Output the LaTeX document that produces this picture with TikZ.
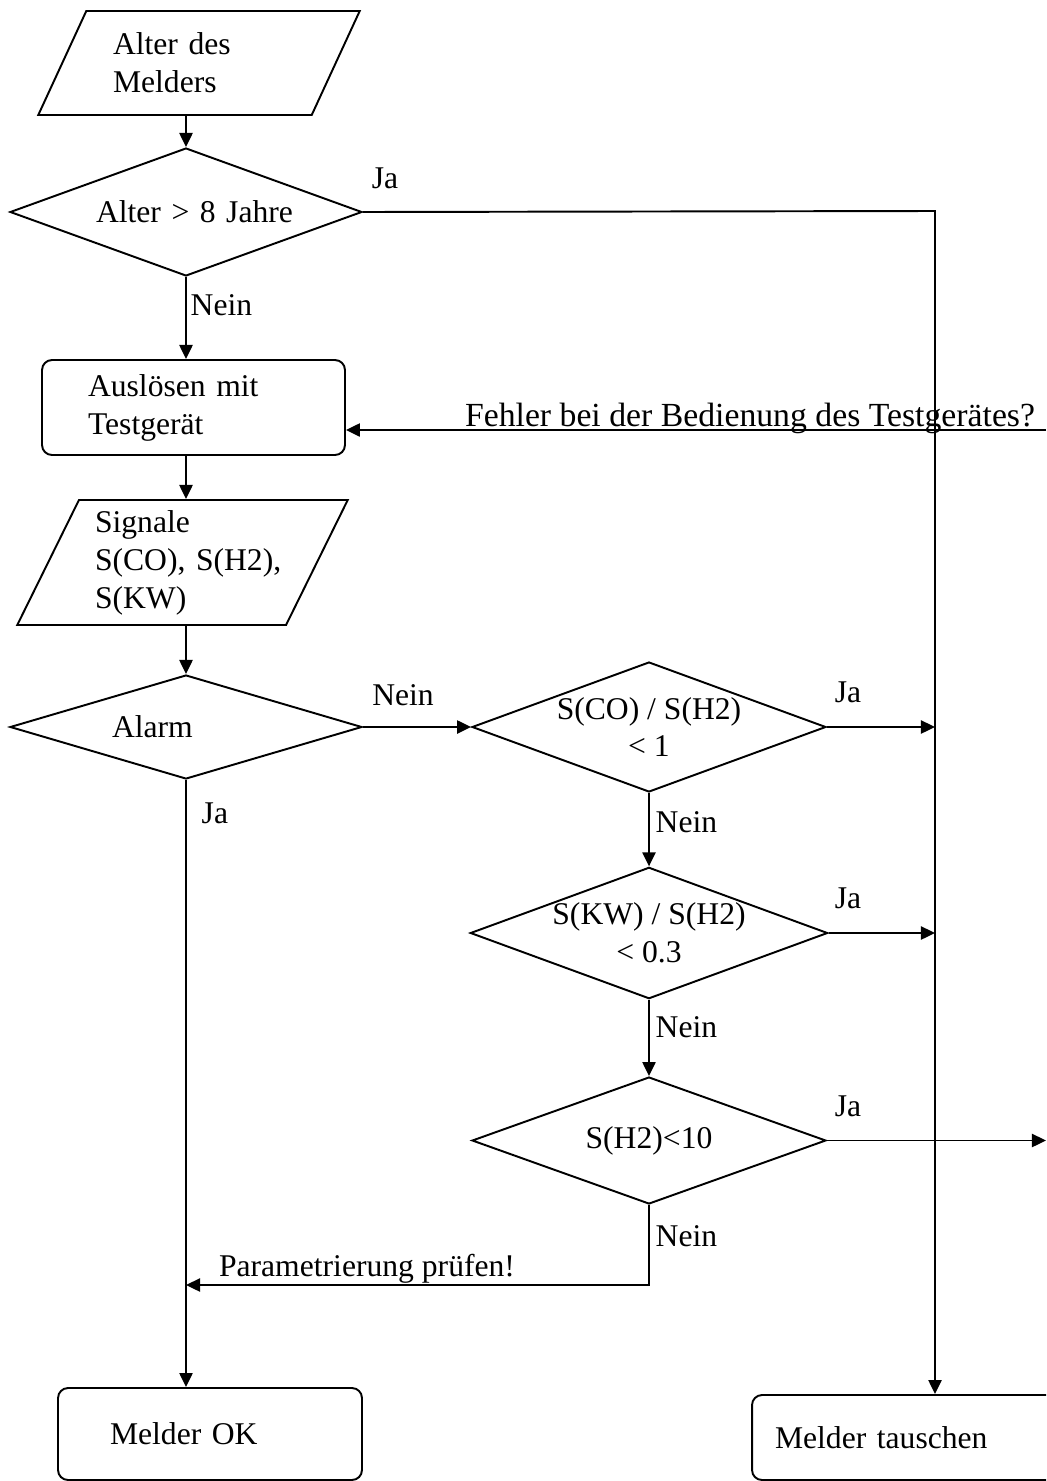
\documentclass[tikz,border=0pt]{standalone}
\usepackage{fontspec}
\setmainfont{Liberation Serif}
\usetikzlibrary{shapes,arrows.meta,positioning,calc}

\begin{document}
\begin{tikzpicture}[x=0.02cm, y=-0.02cm, line width=1.1pt,
    font=\fontsize{18}{21.6}\selectfont,
    >={Triangle[length=8pt,width=7.5pt]},
    data/.style={trapezium, draw, trapezium stretches=true, inner ysep=0pt,
      trapezium left angle=#1, trapezium right angle=180-#1, align=left},
    decision/.style={diamond, draw, inner sep=0pt, align=center},
    process/.style={rectangle, draw, rounded corners=0.2cm, align=left},
    tag/.style={inner sep=1pt}]
  \clip (0,0) rectangle (1046,1481);

  % Blöcke
  \node[data=57, minimum width=6.44cm, minimum height=2.08cm, text width=3.44cm] (alter) at (199,63) {Alter des\\Melders};
  \node[decision, aspect=2.75, minimum width=7.04cm, minimum height=2.56cm, text width=4.28cm, align=right] (pruefalter) at (186,212) {Alter > 8 Jahre};
  \node[process, minimum width=6.06cm, minimum height=1.9cm, text width=4.22cm] (ausloesen) at (193.5,407.5) {Auslösen mit\\Testgerät};
  \node[data=62, minimum width=6.62cm, minimum height=2.5cm, text width=3.5cm] (signale) at (182.5,562.5) {Signale\\S(CO),~S(H2),\\S(KW)};
  \node[decision, aspect=3.38, minimum width=7.04cm, minimum height=2.08cm, text width=2.96cm, align=left] (alarm) at (186,727) {Alarm};
  \node[decision, aspect=2.72, minimum width=7.08cm, minimum height=2.6cm] (co) at (649,727) {S(CO) / S(H2)\\< 1};
  \node[decision, aspect=2.72, minimum width=7.08cm, minimum height=2.6cm] (kw) at (649,933) {S(KW) / S(H2)\\< 0.3};
  \node[decision, aspect=2.79, minimum width=7.08cm, minimum height=2.54cm] (h2) at (649,1140.5) {S(H2)<10};
  \node[process, minimum width=6.08cm, minimum height=1.84cm, text width=4cm] (ok) at (210,1434) {Melder OK};
  \node[process, minimum width=6.36cm, minimum height=1.7cm, text width=5.44cm] (tauschen) at (911,1437.5) {Melder tauschen};

  \coordinate (stamm) at (935,211);
  \coordinate (fehler) at (1046,430);
  \coordinate (aus) at (1046,1140.5);
  \coordinate (rueck) at (649,1285);

  % Verbindungen
  \draw[->] (alter.south -| pruefalter.north) -- (pruefalter.north);
  \draw[->] (pruefalter.east) -- (stamm) -- (stamm |- tauschen.north);
  \draw[->] (pruefalter.south) -- (pruefalter.south |- ausloesen.north);
  \draw[->] (fehler) -- (fehler -| ausloesen.east);
  \draw[->] (ausloesen.south -| pruefalter.south) -- (pruefalter.south |- signale.north);
  \draw[->] (signale.south -| alarm.north) -- (alarm.north);
  \draw[->] (alarm.east) -- (co.west);
  \draw[->] (co.east) -- (co.east -| stamm);
  \draw[->] (co.south) -- (kw.north);
  \draw[->] (kw.east) -- (kw.east -| stamm);
  \draw[->] (kw.south) -- (h2.north);
  \draw[->] (h2.east) -- (aus);
  \draw[->] (h2.south) -- (rueck) -- (rueck -| alarm.south);
  \draw[->] (alarm.south) -- (alarm.south |- ok.north);

  % Beschriftungen
  \node[tag] (ja1) at (385,178) {Ja};
  \node[tag, anchor=west] (nein1) at (188,305) {Nein};
  \node[tag, anchor=base, font=\fontsize{19.2}{23}\selectfont] (fehlertxt) at (750,426) {Fehler bei der Bedienung des Testgerätes?};
  \node[tag] (nein2) at (403,695) {Nein};
  \node[tag] (ja2) at (848,692) {Ja};
  \node[tag, anchor=west] (nein3) at (653,822) {Nein};
  \node[tag] (ja3) at (848,898) {Ja};
  \node[tag, anchor=west] (nein4) at (653,1027) {Nein};
  \node[tag] (ja4) at (848,1106) {Ja};
  \node[tag, anchor=west] (nein5) at (653,1236) {Nein};
  \node[tag, anchor=base] (param) at (367,1276) {Parametrierung prüfen!};
  \node[tag, anchor=west] (ja5) at (199,813) {Ja};
\end{tikzpicture}
\end{document}
